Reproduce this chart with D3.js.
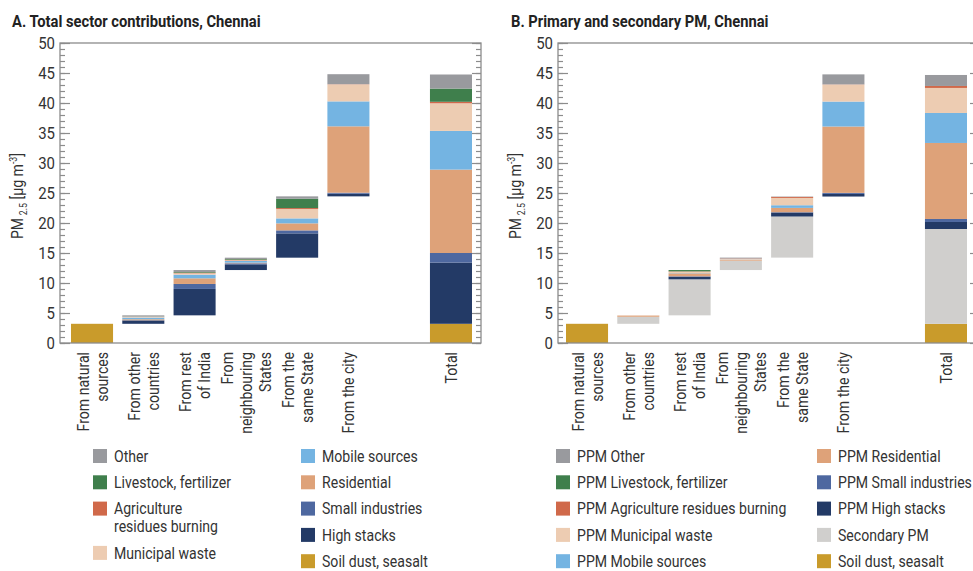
<!DOCTYPE html>
<meta charset="utf-8">
<script src="https://d3js.org/d3.v7.min.js"></script>
<style>
  body { margin: 0; background: #fff; }
  text { font-family: "Liberation Sans Narrow", "Roboto", sans-serif; fill: #333; }
</style>
<div id="chart"></div>
<script>

// categories along the x axis (the empty slot is the gap before Total)
var categories = ["natural", "other", "rest", "neigh", "same", "city", "gap", "total"]
var catLabels = [
  ["From natural", "sources"],
  ["From other", "countries"],
  ["From rest", "of India"],
  ["From", "neighbouring", "States"],
  ["From the", "same State"],
  ["From the city"],
  [],
  ["Total"]
]
var barCats = ["natural", "other", "rest", "neigh", "same", "city", "total"]

// panel A, values per bar (natural, other, rest, neigh, same, city, total)
var aSoil        = [3.2, 0,    0,    0,    0,    0,     3.2]
var aHighStacks  = [0,   0.56, 4.4,  0.95, 4.05, 0.44,  10.2]
var aSmallInd    = [0,   0.03, 0.83, 0.17, 0.5,  0.17,  1.6]
var aResidential = [0,   0.17, 0.94, 0.11, 1.17, 11.06, 13.9]
var aMobile      = [0,   0.28, 0.61, 0.28, 0.83, 4.16,  6.45]
var aMunicipal   = [0,   0.12, 0.22, 0.11, 1.56, 2.83,  4.6]
var aAgri        = [0,   0.02, 0.11, 0.11, 0.16, 0.03,  0.25]
var aLivestock   = [0,   0.03, 0.11, 0.11, 1.56, 0,     2.2]
var aOther       = [0,   0.2,  0.33, 0.22, 0.39, 1.67,  2.35]

// panel B
var bSoil        = [3.2, 0,    0,    0,    0,    0,     3.2]
var bSecondary   = [0,   1.17, 6.0,  1.56, 6.85, 0,     15.8]
var bHighStacks  = [0,   0,    0.39, 0,    0.67, 0.44,  1.17]
var bSmallInd    = [0,   0,    0.11, 0,    0.05, 0.17,  0.5]
var bResidential = [0,   0.2,  0.5,  0.17, 0.72, 11.06, 12.67]
var bMobile      = [0,   0,    0.05, 0.03, 0.44, 4.16,  5.0]
var bMunicipal   = [0,   0.04, 0.22, 0.1,  1.22, 2.83,  4.17]
var bAgri        = [0,   0,    0.06, 0.06, 0.17, 0.03,  0.33]
var bLivestock   = [0,   0,    0.22, 0,    0,    0,     0]
var bOther       = [0,   0,    0,    0.15, 0.06, 1.67,  1.83]

var yTicks = [0, 5, 10, 15, 20, 25, 30, 35, 40, 45, 50]

var colors = {
  other: "#999a9e", livestock: "#3f7f4c", agri: "#d0694a", municipal: "#edccb2",
  mobile: "#74b4e2", residential: "#dea279", small: "#4e68a0", high: "#233a66",
  soil: "#c99b2b", secondary: "#d0cfcd"
}

// series bottom -> top
var seriesA = [
  {key: "soil", values: aSoil}, {key: "high", values: aHighStacks}, {key: "small", values: aSmallInd},
  {key: "residential", values: aResidential}, {key: "mobile", values: aMobile},
  {key: "municipal", values: aMunicipal}, {key: "agri", values: aAgri},
  {key: "livestock", values: aLivestock}, {key: "other", values: aOther}
]
var seriesB = [
  {key: "soil", values: bSoil}, {key: "secondary", values: bSecondary}, {key: "high", values: bHighStacks},
  {key: "small", values: bSmallInd}, {key: "residential", values: bResidential},
  {key: "mobile", values: bMobile}, {key: "municipal", values: bMunicipal},
  {key: "agri", values: bAgri}, {key: "livestock", values: bLivestock}, {key: "other", values: bOther}
]

var legendA = [
  [["other", ["Other"]], ["livestock", ["Livestock, fertilizer"]], ["agri", ["Agriculture", "residues burning"]], ["municipal", ["Municipal waste"]]],
  [["mobile", ["Mobile sources"]], ["residential", ["Residential"]], ["small", ["Small industries"]], ["high", ["High stacks"]], ["soil", ["Soil dust, seasalt"]]]
]
var legendB = [
  [["other", ["PPM Other"]], ["livestock", ["PPM Livestock, fertilizer"]], ["agri", ["PPM Agriculture residues burning"]], ["municipal", ["PPM Municipal waste"]], ["mobile", ["PPM Mobile sources"]]],
  [["residential", ["PPM Residential"]], ["small", ["PPM Small industries"]], ["high", ["PPM High stacks"]], ["secondary", ["Secondary PM"]], ["soil", ["Soil dust, seasalt"]]]
]

var width = 973, height = 571
var narrow = 0.88   // squeeze text horizontally, the original font is a condensed one

var svg = d3.select("#chart").append("svg")
  .attr("width", width)
  .attr("height", height)

// text helper: position, optional rotation, then horizontal squeeze
function addText(parent, x, y, str, rot, size, sq) {
  return parent.append("text")
    .attr("transform", "translate(" + x + "," + y + ")" + (rot ? " rotate(" + rot + ")" : "") + " scale(" + (sq || narrow) + ",1)")
    .style("font-size", (size || 16) + "px")
    .text(str)
}

var panels = [
  {left: 60, right: 481, barStart: 71, title: "A. Total sector contributions, Chennai", titleX: 12, labelX: 23,
   series: seriesA, legend: legendA, legCols: [93, 301]},
  {left: 558, right: 979, barStart: 566, title: "B. Primary and secondary PM, Chennai", titleX: 511, labelX: 521,
   series: seriesB, legend: legendB, legCols: [556, 817]}
]

var y = d3.scaleLinear().domain([0, 50]).range([343, 43])

panels.forEach(function(p) {
  var g = svg.append("g")

  var x = d3.scaleBand()
    .domain(categories)
    .range([p.barStart, p.barStart + 401])
    .paddingInner(0.18)
    .paddingOuter(0)

  // waterfall: each bar starts where the previous one ended, Total starts at 0
  var rects = []
  var running = 0
  barCats.forEach(function(c, i) {
    var base = c == "total" ? 0 : running
    var acc = base
    p.series.forEach(function(s) {
      var v = s.values[i]
      if (v > 0) rects.push({cat: c, key: s.key, y0: acc, y1: acc + v})
      acc += v
    })
    if (c != "total") running = acc
  })

  g.selectAll(".seg")
    .data(rects)
    .enter().append("rect")
      .attr("x", function(d) { return x(d.cat) })
      .attr("width", x.bandwidth())
      .attr("y", function(d) { return y(d.y1) })
      .attr("height", function(d) { return y(d.y0) - y(d.y1) })
      .style("fill", function(d) { return colors[d.key] })

  // frame
  g.append("rect")
    .attr("x", p.left).attr("y", y(50))
    .attr("width", p.right - p.left).attr("height", y(0) - y(50))
    .style("fill", "none").style("stroke", "#8c8c8c").style("stroke-width", 1.3)

  // ticks, pointing inward on both sides
  var minor = d3.range(0, 51, 1)
  g.append("g").attr("transform", "translate(" + p.left + ",0)")
    .call(d3.axisLeft(y).tickValues(minor).tickSize(-5).tickFormat(""))
  g.append("g").attr("class", "ylab").attr("transform", "translate(" + p.left + ",0)")
    .call(d3.axisLeft(y).tickValues(yTicks).tickSize(-10).tickPadding(5))
  g.append("g").attr("transform", "translate(" + p.right + ",0)")
    .call(d3.axisRight(y).tickValues(minor).tickSize(-5).tickFormat(""))
  g.append("g").attr("transform", "translate(" + p.right + ",0)")
    .call(d3.axisRight(y).tickValues(yTicks).tickSize(-9).tickFormat(""))
  g.selectAll(".domain").remove()
  g.selectAll(".tick line").style("stroke", "#8c8c8c").style("stroke-width", 1.2)
  g.selectAll(".ylab .tick text")
    .attr("transform", "scale(" + narrow + ",1)")
    .attr("x", -5 / narrow)
    .style("font-size", "17px").style("fill", "#333")
    .style("font-family", "'Liberation Sans Narrow', Roboto, sans-serif")

  // title
  addText(g, p.titleX, 27, p.title, 0, 16, 0.92)
    .style("font-weight", "bold").style("fill", "#222")

  // y label
  var yl = addText(g, p.labelX, 196, null, -90, 16)
    .attr("text-anchor", "middle")
  yl.append("tspan").text("PM")
  yl.append("tspan").attr("dx", 3).attr("dy", 4).style("font-size", "10px").text("2.5")
  yl.append("tspan").attr("dy", -4).text(" [µg m")
  yl.append("tspan").attr("dy", -6).style("font-size", "10px").text("-3")
  yl.append("tspan").attr("dy", 6).text("]")

  // category labels, rotated
  categories.forEach(function(c, i) {
    var lines = catLabels[i]
    var cx = x(c) + x.bandwidth() / 2
    lines.forEach(function(t, j) {
      var off = (j - (lines.length - 1) / 2) * 19
      addText(g, cx + off + 6, 352, t, -90, 16)
        .attr("text-anchor", "end")
    })
  })

  // legend
  p.legend.forEach(function(col, ci) {
    var yy = 456
    col.forEach(function(item) {
      g.append("rect")
        .attr("x", p.legCols[ci]).attr("y", yy - 7)
        .attr("width", 14).attr("height", 14)
        .style("fill", colors[item[0]])
      item[1].forEach(function(t, j) {
        addText(g, p.legCols[ci] + 21, yy + j * 18, t, 0, 16)
          .attr("dy", "0.35em")
      })
      yy += 26.3 + (item[1].length - 1) * 18
    })
  })
})

</script>
